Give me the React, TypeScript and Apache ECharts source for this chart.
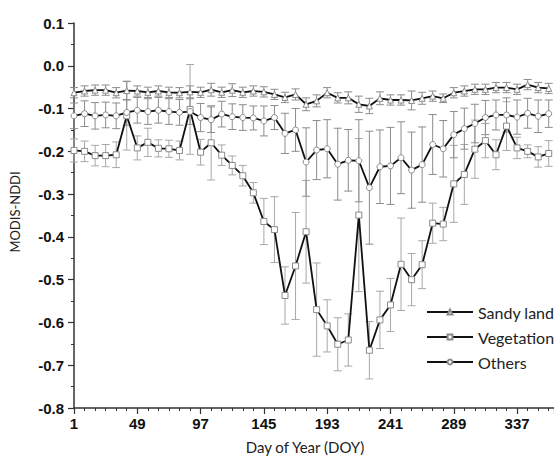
import React, { useEffect, useRef } from "react";
import * as echarts from "echarts";

// MODIS 8-day composite dates (day of year)
const doy = [
  1, 9, 17, 25, 33, 41, 49, 57, 65, 73, 81, 89, 97, 105, 113, 121, 129, 137, 145, 153, 161, 169, 177,
  185, 193, 201, 209, 217, 225, 233, 241, 249, 257, 265, 273, 281, 289, 297, 305, 313, 321, 329, 337,
  345, 353, 361,
];

const xTickLabels = [1, 49, 97, 145, 193, 241, 289, 337];

// Mean NDDI per land-cover class and its standard deviation
const sandyLand = [
  -0.063, -0.059, -0.057, -0.057, -0.063, -0.058, -0.059, -0.062, -0.059, -0.062, -0.063, -0.061,
  -0.062, -0.056, -0.062, -0.057, -0.062, -0.059, -0.061, -0.067, -0.074, -0.067, -0.09, -0.082,
  -0.063, -0.075, -0.075, -0.09, -0.094, -0.076, -0.08, -0.08, -0.081, -0.076, -0.071, -0.076,
  -0.063, -0.059, -0.055, -0.055, -0.051, -0.051, -0.055, -0.044, -0.051, -0.053,
];
const sandyLandSd = [
  0.012, 0.012, 0.012, 0.012, 0.012, 0.022, 0.012, 0.012, 0.012, 0.012, 0.012, 0.014, 0.012, 0.015,
  0.012, 0.015, 0.012, 0.012, 0.012, 0.012, 0.012, 0.013, 0.015, 0.014, 0.012, 0.012, 0.014, 0.019,
  0.018, 0.015, 0.012, 0.012, 0.022, 0.014, 0.012, 0.01, 0.012, 0.012, 0.012, 0.012, 0.012, 0.012,
  0.012, 0.012, 0.012, 0.012,
];

const vegetation = [
  -0.198, -0.2, -0.21, -0.21, -0.208, -0.117, -0.192, -0.179, -0.193, -0.194, -0.198, -0.102, -0.202,
  -0.18, -0.209, -0.233, -0.257, -0.297, -0.364, -0.383, -0.537, -0.468, -0.388, -0.57, -0.608,
  -0.651, -0.641, -0.349, -0.665, -0.594, -0.559, -0.464, -0.5, -0.465, -0.368, -0.37, -0.276,
  -0.254, -0.195, -0.175, -0.208, -0.141, -0.192, -0.2, -0.213, -0.205,
];
const vegetationSd = [
  0.027, 0.024, 0.024, 0.026, 0.03, 0.08, 0.028, 0.033, 0.02, 0.02, 0.022, 0.105, 0.03, 0.087, 0.024,
  0.022, 0.024, 0.024, 0.054, 0.077, 0.067, 0.125, 0.12, 0.109, 0.061, 0.062, 0.061, 0.179, 0.067,
  0.067, 0.062, 0.108, 0.061, 0.056, 0.047, 0.039, 0.09, 0.07, 0.068, 0.04, 0.035, 0.057, 0.025,
  0.015, 0.024, 0.03,
];

const others = [
  -0.117, -0.112, -0.117, -0.115, -0.117, -0.109, -0.104, -0.107, -0.104, -0.107, -0.109, -0.107,
  -0.121, -0.126, -0.113, -0.119, -0.121, -0.122, -0.129, -0.121, -0.158, -0.15, -0.225, -0.197,
  -0.194, -0.23, -0.221, -0.222, -0.285, -0.236, -0.234, -0.215, -0.244, -0.231, -0.184, -0.194,
  -0.161, -0.147, -0.135, -0.121, -0.115, -0.115, -0.12, -0.111, -0.118, -0.112,
];
const othersSd = [
  0.03, 0.03, 0.031, 0.03, 0.03, 0.03, 0.03, 0.03, 0.03, 0.03, 0.03, 0.03, 0.033, 0.03, 0.03, 0.03,
  0.03, 0.028, 0.035, 0.028, 0.047, 0.05, 0.08, 0.069, 0.068, 0.084, 0.072, 0.096, 0.132, 0.086,
  0.09, 0.084, 0.089, 0.088, 0.07, 0.066, 0.054, 0.048, 0.045, 0.04, 0.035, 0.04, 0.04, 0.035,
  0.038, 0.032,
];

const points = (vals: number[]) => doy.map((d, i) => [d, vals[i]]);
const ranges = (vals: number[], sd: number[]) =>
  doy.map((d, i) => [d, vals[i] - sd[i], vals[i] + sd[i]]);

const errorBars = (name: string, vals: number[], sd: number[], color: string) => ({
  type: "custom",
  name: name + " SD",
  data: ranges(vals, sd),
  encode: { x: 0, y: [1, 2] },
  z: 1,
  renderItem: (_params: any, api: any) => {
    const x = api.value(0);
    const lo = api.coord([x, api.value(1)]);
    const hi = api.coord([x, api.value(2)]);
    const cap = 4;
    const style = { stroke: color, lineWidth: 1 };
    return {
      type: "group",
      children: [
        { type: "line", shape: { x1: lo[0], y1: lo[1], x2: hi[0], y2: hi[1] }, style },
        { type: "line", shape: { x1: lo[0] - cap, y1: lo[1], x2: lo[0] + cap, y2: lo[1] }, style },
        { type: "line", shape: { x1: hi[0] - cap, y1: hi[1], x2: hi[0] + cap, y2: hi[1] }, style },
      ],
    };
  },
});

const meanLine = (name: string, vals: number[], symbol: string) => ({
  type: "line",
  name,
  data: points(vals),
  symbol,
  symbolSize: 6,
  showAllSymbol: true,
  z: 3,
  lineStyle: { color: "#111", width: 1.8 },
  itemStyle: { color: "#fff", borderColor: "#8a8a8a", borderWidth: 1 },
});

export default function App() {
  const ref = useRef<HTMLDivElement>(null);

  useEffect(() => {
    if (!ref.current) return;
    const chart = echarts.init(ref.current, undefined, { renderer: "svg" });
    const axisColor = "#333";
    chart.setOption({
      animation: false,
      backgroundColor: "#fff",
      grid: { left: 74, top: 23, width: 480.3, height: 385 },
      xAxis: {
        type: "value",
        min: 1,
        max: 365,
        interval: 48,
        axisLine: { onZero: false, lineStyle: { color: axisColor, width: 1.5 } },
        axisTick: { show: true, length: 6, lineStyle: { color: axisColor, width: 1.2 } },
        minorTick: { show: true, splitNumber: 6, length: 3, lineStyle: { color: axisColor, width: 1 } },
        splitLine: { show: false },
        axisLabel: {
          margin: 8,
          color: "#111",
          fontFamily: "Liberation Sans, Arial, sans-serif",
          fontWeight: "bold",
          fontSize: 15,
          showMaxLabel: false,
          formatter: (v: number) => (xTickLabels.includes(v) ? String(v) : ""),
        },
      },
      yAxis: {
        type: "value",
        min: -0.8,
        max: 0.1,
        interval: 0.1,
        axisLine: { show: true, onZero: false, lineStyle: { color: axisColor, width: 1.5 } },
        axisTick: { show: true, length: 6, lineStyle: { color: axisColor, width: 1.2 } },
        minorTick: { show: true, splitNumber: 2, length: 3, lineStyle: { color: axisColor, width: 1 } },
        splitLine: { show: false },
        axisLabel: {
          margin: 10,
          color: "#111",
          fontFamily: "Liberation Sans, Arial, sans-serif",
          fontWeight: "bold",
          fontSize: 15,
          formatter: (v: number) => v.toFixed(1),
        },
      },
      legend: {
        orient: "vertical",
        left: 421,
        top: 299,
        itemWidth: 46,
        itemHeight: 6,
        itemGap: 9,
        data: ["Sandy land", "Vegetation", "Others"],
        textStyle: { fontFamily: "Lato, sans-serif", fontSize: 16, lineHeight: 16, color: "#222" },
      },
      graphic: [
        {
          type: "text",
          x: 305,
          y: 447,
          style: {
            text: "Day of Year (DOY)",
            fontFamily: "Lato, sans-serif",
            fontSize: 15,
            fill: "#222",
            align: "center",
            verticalAlign: "middle",
          },
        },
        {
          type: "text",
          x: 15,
          y: 212,
          rotation: Math.PI / 2,
          style: {
            text: "MODIS-NDDI",
            fontFamily: "Lato, sans-serif",
            fontSize: 13,
            fill: "#222",
            align: "center",
            verticalAlign: "middle",
          },
        },
      ],
      series: [
        errorBars("Vegetation", vegetation, vegetationSd, "#a8a8a8"),
        errorBars("Others", others, othersSd, "#8c8c8c"),
        errorBars("Sandy land", sandyLand, sandyLandSd, "#8c8c8c"),
        meanLine("Vegetation", vegetation, "rect"),
        meanLine("Others", others, "circle"),
        meanLine("Sandy land", sandyLand, "triangle"),
      ],
    });
    return () => chart.dispose();
  }, []);

  return (
    <div
      ref={ref}
      style={{ position: "absolute", left: 0, top: 0, width: 554, height: 462, background: "#fff" }}
    />
  );
}
